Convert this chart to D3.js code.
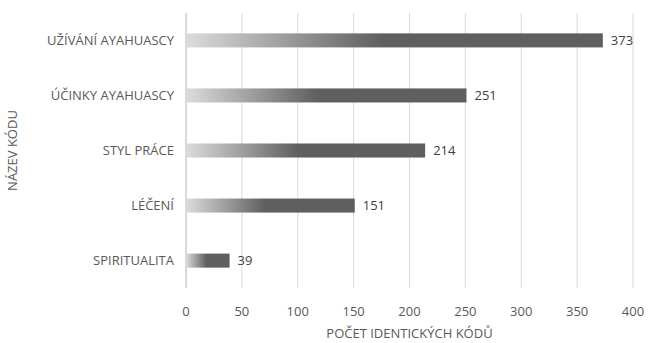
<!DOCTYPE html>
<html>
<head>
<meta charset="utf-8">
<script src="https://cdn.jsdelivr.net/npm/d3@7"></script>
<style>
  body { margin: 0; background: #fff; }
  svg { display: block; font-family: "Open Sans", "Liberation Sans", sans-serif; }
</style>
</head>
<body>
<svg id="chart" width="648" height="343"></svg>
<script>
const categories = ["UŽÍVÁNÍ AYAHUASCY", "ÚČINKY AYAHUASCY", "STYL PRÁCE", "LÉČENÍ", "SPIRITUALITA"];
const values = [373, 251, 214, 151, 39];
const xTicks = [0, 50, 100, 150, 200, 250, 300, 350, 400];
const xTitle = "POČET IDENTICKÝCH KÓDŮ";
const yTitle = "NÁZEV KÓDU";

const svg = d3.select("#chart");
const margin = { left: 186, right: 15, top: 13, bottom: 55 };
const W = 648, H = 343;

const x = d3.scaleLinear().domain([0, 400]).range([margin.left, W - margin.right]);
const y = d3.scaleBand().domain(categories).range([margin.top, H - margin.bottom]).paddingInner(0.745).paddingOuter(0.37);

const textColor = "#595959";
const gridColor = "#d9d9d9";

// gradient used by every bar: light grey fading to dark grey over the first half
const defs = svg.append("defs");
const grad = defs.append("linearGradient")
  .attr("id", "barGrad")
  .attr("x1", "0").attr("x2", "1").attr("y1", "0").attr("y2", "0");
grad.append("stop").attr("offset", "0").attr("stop-color", "#dcdcdc");
grad.append("stop").attr("offset", "0.47").attr("stop-color", "#5f5f5f");
grad.append("stop").attr("offset", "1").attr("stop-color", "#5f5f5f");

// vertical gridlines
svg.append("g")
  .selectAll("line")
  .data(xTicks.slice(1))
  .join("line")
  .attr("x1", d => x(d)).attr("x2", d => x(d))
  .attr("y1", margin.top).attr("y2", H - margin.bottom)
  .attr("stroke", gridColor).attr("stroke-width", 1);

// bars
svg.append("g")
  .selectAll("rect")
  .data(categories)
  .join("rect")
  .attr("x", x(0))
  .attr("y", d => y(d))
  .attr("width", (d, i) => x(values[i]) - x(0))
  .attr("height", y.bandwidth())
  .attr("fill", "url(#barGrad)");

// category axis line
svg.append("line")
  .attr("x1", x(0)).attr("x2", x(0))
  .attr("y1", margin.top).attr("y2", H - margin.bottom)
  .attr("stroke", gridColor).attr("stroke-width", 2);

// value labels
svg.append("g")
  .selectAll("text")
  .data(categories)
  .join("text")
  .attr("x", (d, i) => x(values[i]) + 8)
  .attr("y", d => y(d) + y.bandwidth() / 2)
  .attr("dy", "0.35em")
  .attr("font-size", 13)
  .attr("fill", "#404040")
  .text((d, i) => values[i]);

// category labels
svg.append("g")
  .selectAll("text")
  .data(categories)
  .join("text")
  .attr("x", x(0) - 12)
  .attr("y", d => y(d) + y.bandwidth() / 2)
  .attr("dy", "0.35em")
  .attr("text-anchor", "end")
  .attr("font-size", 13)
  .attr("fill", textColor)
  .text(d => d);

// x tick labels
svg.append("g")
  .selectAll("text")
  .data(xTicks)
  .join("text")
  .attr("x", d => x(d))
  .attr("y", 311)
  .attr("dy", "0.35em")
  .attr("text-anchor", "middle")
  .attr("font-size", 13)
  .attr("fill", textColor)
  .text(d => d);

// axis titles
svg.append("text")
  .attr("x", (x(0) + x(400)) / 2)
  .attr("y", 333)
  .attr("dy", "0.35em")
  .attr("text-anchor", "middle")
  .attr("font-size", 13)
  .attr("fill", textColor)
  .text(xTitle);

svg.append("text")
  .attr("transform", `translate(12,${(margin.top + H - margin.bottom) / 2}) rotate(-90)`)
  .attr("dy", "0.35em")
  .attr("text-anchor", "middle")
  .attr("font-size", 13)
  .attr("fill", textColor)
  .text(yTitle);
</script>
</body>
</html>
